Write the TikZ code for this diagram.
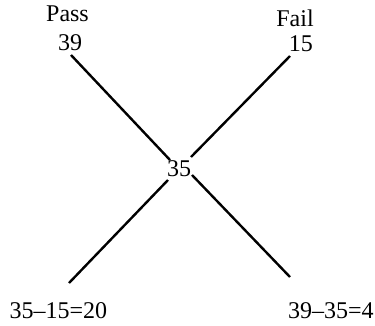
\documentclass[tikz,border=0pt]{standalone}
\usepackage{fontspec}
\setmainfont{Liberation Serif}
\begin{document}
\begin{tikzpicture}[x=1pt,y=-1pt,
  lbl/.style={anchor=base,inner sep=0pt,font=\fontsize{24}{28}\selectfont},
  seg/.style={line width=2.4pt}]
\useasboundingbox (0,0) rectangle (375,325);
\node[lbl] (pass) at (67.5,21.7) {Pass};
\node[lbl] (n39) at (70,50) {39};
\node[lbl] (fail) at (295,26.7) {Fail};
\node[lbl] (n15) at (300.8,51.7) {15};
\node[lbl] (c) at (179,176.7) {35};
\node[lbl] (bl) at (58.3,318) {35–15=20};
\node[lbl] (br) at (330.8,318) {39–35=4};
\coordinate (a1) at (71,55);
\coordinate (a2) at (170,160);
\coordinate (b1) at (290,56);
\coordinate (b2) at (191,157);
\coordinate (c1) at (168,180);
\coordinate (c2) at (69,283);
\coordinate (d1) at (192,175);
\coordinate (d2) at (290,277);
\draw[seg] (a1) -- (a2);
\draw[seg] (b1) -- (b2);
\draw[seg] (c1) -- (c2);
\draw[seg] (d1) -- (d2);
\end{tikzpicture}
\end{document}
